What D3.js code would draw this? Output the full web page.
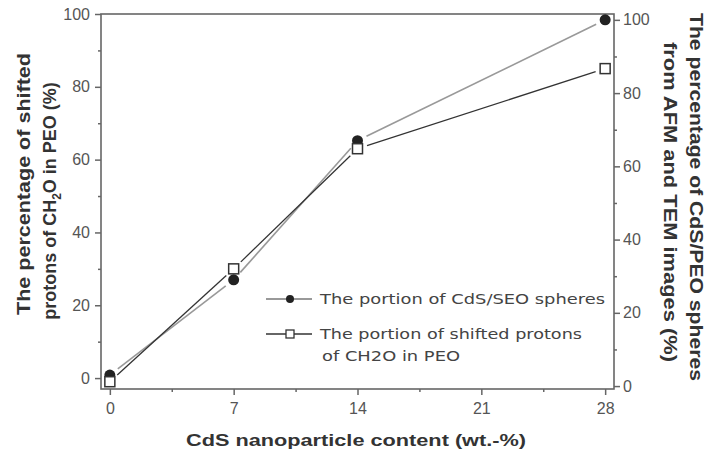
<!DOCTYPE html>
<html><head><meta charset="utf-8">
<script src="https://cdn.jsdelivr.net/npm/d3@7"></script>
<style>body{margin:0;background:#fff}svg{display:block}</style>
</head><body>
<svg id="c" width="708" height="456"></svg>
<script>
const xValues = [0, 7, 14, 28];
const spheresPct = [3, 29, 67, 100];      // right axis: CdS/SEO spheres (filled circles)
const protonsPct = [-1, 30, 63, 85];      // left axis: shifted protons (open squares)
const xTicks = [0, 7, 14, 21, 28];
const yTicks = [0, 20, 40, 60, 80, 100];
const legendLabels = ["The portion of CdS/SEO spheres", "The portion of shifted protons", "of CH2O in PEO"];

const L = 101, R = 614, T = 14, B = 389;
const svg = d3.select("#c");
const x = d3.scaleLinear().domain([-0.5, 28.5]).range([L, R]);
const yL = d3.scaleLinear().domain([-3, 100]).range([B, T]);
const yR = d3.scaleLinear().domain([-0.8, 101.6]).range([B, T]);

const axisCol = "#666", tickFont = "Liberation Sans, Arial, sans-serif";

// axes
const ax = d3.axisBottom(x).tickValues(xTicks).tickSize(6).tickPadding(8).tickFormat(d3.format("d"));
const axM = d3.axisBottom(x).tickValues([3.5, 10.5, 17.5, 24.5]).tickSize(3).tickFormat("");
const ayL = d3.axisLeft(yL).tickValues(yTicks).tickSize(6).tickPadding(5);
const ayLm = d3.axisLeft(yL).tickValues([10, 30, 50, 70, 90]).tickSize(3).tickFormat("");
const ayR = d3.axisRight(yR).tickValues(yTicks).tickSize(6).tickPadding(3);
const ayRm = d3.axisRight(yR).tickValues([10, 30, 50, 70, 90]).tickSize(3).tickFormat("");

function style(g) {
  g.select(".domain").remove();
  g.selectAll("line").attr("stroke", axisCol).attr("stroke-width", 1.5);
  g.selectAll("text").attr("fill", "#555").style("font-family", tickFont).style("font-size", "16px");
}
svg.append("g").attr("transform", `translate(0,${B})`).call(ax).call(style);
svg.append("g").attr("transform", `translate(0,${B})`).call(axM).call(style);
svg.append("g").attr("transform", `translate(${L},0)`).call(ayL).call(style);
svg.append("g").attr("transform", `translate(${L},0)`).call(ayLm).call(style);
svg.append("g").attr("transform", `translate(${R},0)`).call(ayR).call(style);
svg.append("g").attr("transform", `translate(${R},0)`).call(ayRm).call(style);

// frame
svg.append("rect").attr("x", L).attr("y", T).attr("width", R - L).attr("height", B - T)
  .attr("fill", "none").attr("stroke", axisCol).attr("stroke-width", 1.6);

// series with gaps around markers
function gappedSegments(vals, ys, gap) {
  const pts = xValues.map((v, i) => [x(v), ys(vals[i])]);
  const segs = [];
  for (let i = 0; i < pts.length - 1; i++) {
    const [x1, y1] = pts[i], [x2, y2] = pts[i + 1];
    const len = Math.hypot(x2 - x1, y2 - y1), ux = (x2 - x1) / len, uy = (y2 - y1) / len;
    segs.push([x1 + ux * gap, y1 + uy * gap, x2 - ux * gap, y2 - uy * gap]);
  }
  return segs;
}
svg.append("g").selectAll("line").data(gappedSegments(spheresPct, yR, 10)).join("line")
  .attr("x1", d => d[0]).attr("y1", d => d[1]).attr("x2", d => d[2]).attr("y2", d => d[3])
  .attr("stroke", "#999").attr("stroke-width", 1.6);
svg.append("g").selectAll("line").data(gappedSegments(protonsPct, yL, 10)).join("line")
  .attr("x1", d => d[0]).attr("y1", d => d[1]).attr("x2", d => d[2]).attr("y2", d => d[3])
  .attr("stroke", "#333").attr("stroke-width", 1.3);

svg.append("g").selectAll("circle").data(xValues).join("circle")
  .attr("cx", d => x(d)).attr("cy", (d, i) => yR(spheresPct[i])).attr("r", 5.5).attr("fill", "#222");
svg.append("g").selectAll("rect").data(xValues).join("rect")
  .attr("x", d => x(d) - 5).attr("y", (d, i) => yL(protonsPct[i]) - 5).attr("width", 10).attr("height", 10)
  .attr("fill", "#fff").attr("stroke", "#333").attr("stroke-width", 1.5);

// legend
const legFont = "DejaVu Sans, sans-serif";
const lg = svg.append("g");
lg.append("line").attr("x1", 266).attr("x2", 312).attr("y1", 299).attr("y2", 299).attr("stroke", "#777").attr("stroke-width", 1.5);
lg.append("circle").attr("cx", 290).attr("cy", 299).attr("r", 4).attr("fill", "#222");
lg.append("line").attr("x1", 266).attr("x2", 312).attr("y1", 334).attr("y2", 334).attr("stroke", "#333").attr("stroke-width", 1.3);
lg.append("rect").attr("x", 286).attr("y", 330).attr("width", 8).attr("height", 8).attr("fill", "#fff").attr("stroke", "#333").attr("stroke-width", 1.3);
const legPos = [[320, 299, 285], [320, 334, 262], [322, 356, 138]];
lg.selectAll("text").data(legendLabels).join("text")
  .attr("x", (d, i) => legPos[i][0]).attr("y", (d, i) => legPos[i][1]).attr("dy", "0.35em")
  .attr("textLength", (d, i) => legPos[i][2]).attr("lengthAdjust", "spacingAndGlyphs")
  .style("font-family", legFont).style("font-size", "14px").attr("fill", "#444").text(d => d);

// axis titles
const titleFont = "Liberation Sans, Arial, sans-serif";
svg.append("text").attr("x", 356).attr("y", 446).attr("text-anchor", "middle")
  .attr("textLength", 340).attr("lengthAdjust", "spacingAndGlyphs")
  .style("font-family", titleFont).style("font-weight", "bold").style("font-size", "17px").attr("fill", "#333")
  .text("CdS nanoparticle content (wt.-%)");

const lt = svg.append("g");
lt.append("text").attr("transform", "translate(30,184) rotate(-90)").attr("text-anchor", "middle")
  .attr("textLength", 262).attr("lengthAdjust", "spacingAndGlyphs")
  .style("font-family", titleFont).style("font-weight", "bold").style("font-size", "18px").attr("fill", "#333")
  .text("The percentage of shifted");
const t2 = lt.append("text").attr("transform", "translate(56,201) rotate(-90)").attr("text-anchor", "middle")
  .style("font-family", titleFont).style("font-weight", "bold").style("font-size", "18px").attr("fill", "#333");
t2.append("tspan").text("protons of CH");
t2.append("tspan").attr("dy", 5).style("font-size", "12px").text("2");
t2.append("tspan").attr("dy", -5).text("O in PEO (%)");

svg.append("text").attr("transform", "translate(690,197) rotate(90)").attr("text-anchor", "middle")
  .attr("textLength", 368).attr("lengthAdjust", "spacingAndGlyphs")
  .style("font-family", titleFont).style("font-weight", "bold").style("font-size", "18px").attr("fill", "#333")
  .text("The percentage of CdS/PEO spheres");
svg.append("text").attr("transform", "translate(664,202) rotate(90)").attr("text-anchor", "middle")
  .attr("textLength", 320).attr("lengthAdjust", "spacingAndGlyphs")
  .style("font-family", titleFont).style("font-weight", "bold").style("font-size", "18px").attr("fill", "#333")
  .text("from AFM and TEM images (%)");
</script>
</body></html>
